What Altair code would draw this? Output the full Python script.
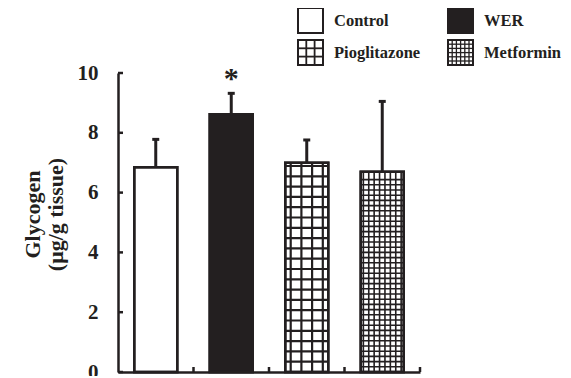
import altair as alt
import pandas as pd

# ---- data ----
groups = ["Control", "WER", "Pioglitazone", "Metformin"]
means = [6.85, 8.62, 7.0, 6.7]
errors = [0.93, 0.70, 0.76, 2.35]
signif = ["", "*", "", ""]
y_ticks = [0, 2, 4, 6, 8, 10]
x_bounds = [1, 2, 3, 4]

# ---- style ----
DARK = "#231f20"
FONT = "Liberation Serif"
W, H = 302, 299
PX_X = W / 4.0
PX_Y = H / 10.0
HALF = 21.5 / PX_X          # bar half width (x units)
CAP = 3.5 / PX_X            # error cap half width
fills = {"Control": "white", "WER": DARK, "Pioglitazone": "white", "Metformin": "white"}
hatch_px = {"Pioglitazone": (10.7, 10.3, 2.2), "Metformin": (5.4, 5.2, 1.6)}

bars = pd.DataFrame({"group": groups, "mean": means, "err": errors, "sig": signif})
bars["pos"] = [i + 0.5 for i in range(len(groups))]
bars["left"] = bars["pos"] - HALF
bars["right"] = bars["pos"] + HALF
bars["top"] = bars["mean"] + bars["err"]
bars["cl"] = bars["pos"] - CAP
bars["cr"] = bars["pos"] + CAP
bars["fill"] = [fills[g] for g in groups]

# hatch lines inside patterned bars (decoration derived from the bar values)
vrows, hrows = [], []
for g, p, v in zip(groups, bars["pos"], means):
    if g not in hatch_px:
        continue
    sx, sy, sw = hatch_px[g]
    k = 0
    while (k + 0.5) * sx < 21.5 - 2:
        for s in (-1, 1):
            vrows.append({"group": g, "x": p + s * (k + 0.5) * sx / PX_X, "y0": 0, "y1": v, "sw": sw})
        k += 1
    k = 1
    while k * sy < v * PX_Y - 3:
        hrows.append({"group": g, "y": k * sy / PX_Y, "x0": p - HALF, "x1": p + HALF, "sw": sw})
        k += 1
vlines = pd.DataFrame(vrows)
hlines = pd.DataFrame(hrows)

xs = alt.Scale(domain=[0, 4], nice=False, zero=False)
ys = alt.Scale(domain=[0, 10], nice=False)

base = alt.Chart(bars)

bar_fill = base.mark_bar(stroke=DARK, strokeWidth=2.5).encode(
    x=alt.X("left:Q", scale=xs, axis=alt.Axis(labels=False, ticks=False, grid=False, title=None,
                                               domainColor=DARK, domainWidth=2.5)),
    x2="right:Q",
    y=alt.Y("mean:Q", scale=ys, axis=alt.Axis(
        values=y_ticks, grid=False, tickSize=0, labelPadding=20, domainColor=DARK, domainWidth=2.5,
        labelFont=FONT, labelFontSize=21, labelFontWeight="bold", labelColor=DARK,
        title=["Glycogen", "(μg/g tissue)"], titleFont=FONT, titleFontSize=22, titleFontWeight="bold",
        titleColor=DARK, titleAngle=-90, titleX=-86, titleY=141, titleAlign="center",
        titleBaseline="middle", titleLineHeight=23)),
    y2=alt.datum(0),
    fill=alt.Fill("fill:N", scale=None),
)

vh = alt.Chart(vlines).mark_rule(color=DARK).encode(
    x=alt.X("x:Q", scale=xs), y=alt.Y("y0:Q", scale=ys), y2="y1:Q",
    strokeWidth=alt.StrokeWidth("sw:Q", scale=None))
hh = alt.Chart(hlines).mark_rule(color=DARK).encode(
    x=alt.X("x0:Q", scale=xs), x2="x1:Q", y=alt.Y("y:Q", scale=ys),
    strokeWidth=alt.StrokeWidth("sw:Q", scale=None))

bar_outline = base.mark_bar(fillOpacity=0, stroke=DARK, strokeWidth=2.5).encode(
    x=alt.X("left:Q", scale=xs), x2="right:Q", y=alt.Y("mean:Q", scale=ys), y2=alt.datum(0))

err_line = base.mark_rule(color=DARK, strokeWidth=3).encode(
    x=alt.X("pos:Q", scale=xs), y=alt.Y("mean:Q", scale=ys), y2="top:Q")
err_cap = base.mark_rule(color=DARK, strokeWidth=3).encode(
    x=alt.X("cl:Q", scale=xs), x2="cr:Q", y=alt.Y("top:Q", scale=ys))

star = base.mark_text(font=FONT, fontSize=30, fontWeight="bold", color=DARK, baseline="middle",
                      dy=-14).encode(
    x=alt.X("pos:Q", scale=xs), y=alt.Y("top:Q", scale=ys), text="sig:N")

yt = alt.Chart(pd.DataFrame({"v": y_ticks})).mark_rule(color=DARK, strokeWidth=2.5).encode(
    y=alt.Y("v:Q", scale=ys), x=alt.value(0), x2=alt.value(5))
xt = alt.Chart(pd.DataFrame({"v": x_bounds})).mark_rule(color=DARK, strokeWidth=2.5).encode(
    x=alt.X("v:Q", scale=xs), y=alt.value(H), y2=alt.value(H - 5))

main = alt.layer(bar_fill, vh, hh, bar_outline, err_line, err_cap, star, yt, xt)

# ---- custom legend (pixel positions relative to plot origin) ----
LX = [180, 330]
LY = [-65, -33]
BOX = 25
leg = pd.DataFrame({"group": groups, "fill": [fills[g] for g in groups]})
leg["bx"] = [LX[i % 2] for i in range(len(groups))]
leg["by"] = [LY[i // 2] for i in range(len(groups))]
leg["bx2"] = leg["bx"] + BOX
leg["by2"] = leg["by"] + BOX
leg["tx"] = leg["bx"] + BOX + 11
leg["ty"] = leg["by"] + BOX / 2

legend_hatch = {"Pioglitazone": (8.3, 1.8), "Metformin": (4.2, 1.3)}
lv, lh = [], []
for _, r in leg.iterrows():
    if r["group"] not in legend_hatch:
        continue
    st, sw = legend_hatch[r["group"]]
    k = 1
    while k * st < BOX - 2:
        lv.append({"x": r["bx"] + k * st, "y0": r["by"], "y1": r["by2"], "sw": sw})
        lh.append({"y": r["by"] + k * st, "x0": r["bx"], "x1": r["bx2"], "sw": sw})
        k += 1
lv = pd.DataFrame(lv)
lh = pd.DataFrame(lh)

lbox = alt.Chart(leg).mark_rect(stroke=DARK, strokeWidth=2).encode(
    x=alt.X("bx:Q", scale=None, axis=None), x2="bx2:Q",
    y=alt.Y("by:Q", scale=None, axis=None), y2="by2:Q",
    fill=alt.Fill("fill:N", scale=None))
lvl = alt.Chart(lv).mark_rule(color=DARK).encode(
    x=alt.X("x:Q", scale=None, axis=None), y=alt.Y("y0:Q", scale=None, axis=None), y2="y1:Q",
    strokeWidth=alt.StrokeWidth("sw:Q", scale=None))
lhl = alt.Chart(lh).mark_rule(color=DARK).encode(
    x=alt.X("x0:Q", scale=None, axis=None), x2="x1:Q", y=alt.Y("y:Q", scale=None, axis=None),
    strokeWidth=alt.StrokeWidth("sw:Q", scale=None))
lbox2 = alt.Chart(leg).mark_rect(stroke=DARK, strokeWidth=2, fillOpacity=0).encode(
    x=alt.X("bx:Q", scale=None, axis=None), x2="bx2:Q",
    y=alt.Y("by:Q", scale=None, axis=None), y2="by2:Q")
ltext = alt.Chart(leg).mark_text(font=FONT, fontSize=16.5, fontWeight="bold", color=DARK,
                                 align="left", baseline="middle").encode(
    x=alt.X("tx:Q", scale=None, axis=None), y=alt.Y("ty:Q", scale=None, axis=None), text="group:N")

legend = alt.layer(lbox, lvl, lhl, lbox2, ltext)

chart = alt.layer(main, legend).resolve_scale(x="independent", y="independent").properties(
    width=W, height=H,
    autosize=alt.AutoSizeParams(type="none"),
    padding={"left": 110, "top": 65, "right": 143, "bottom": 4},
    background="white",
).configure_view(stroke=None)

chart.save("out.html", embed_options={"renderer": "svg", "actions": False})
